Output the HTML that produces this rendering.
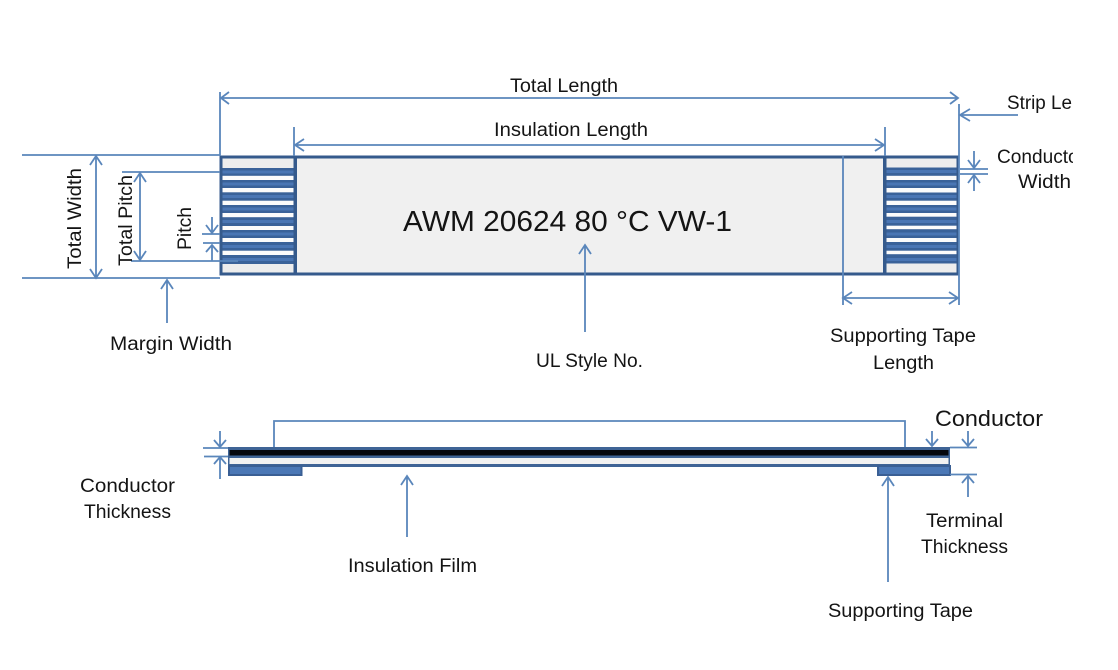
<!DOCTYPE html>
<html>
<head>
<meta charset="utf-8">
<style>
html,body{margin:0;padding:0;background:#fff;width:1118px;height:670px;overflow:hidden}
svg{display:block}
text{font-family:"Liberation Sans",sans-serif;fill:#141414;font-size:19px}
.l{stroke:#5a86bb;stroke-width:1.8;fill:none}
</style>
</head>
<body>
<svg width="1118" height="670" viewBox="0 0 1118 670" xmlns="http://www.w3.org/2000/svg">
<!-- top strip -->
<rect x="221" y="157" width="737" height="117" fill="#f0f0f0"/>
<rect x="222" y="158" width="72" height="10" fill="#ededed"/>
<rect x="222" y="264" width="72" height="9" fill="#ededed"/>
<rect x="886" y="158" width="72" height="9" fill="#ededed"/>
<rect x="886" y="264" width="72" height="9" fill="#ededed"/>
<!-- conductor blocks -->
<rect x="221" y="168" width="74" height="96" fill="#3a6299"/>
<rect x="885" y="167.500" width="74" height="96" fill="#3a6299"/>
<g fill="#4a76b4">
<rect x="221" y="170.500" width="74" height="3"/>
<rect x="221" y="182.500" width="74" height="3"/>
<rect x="221" y="195" width="74" height="3"/>
<rect x="221" y="207.500" width="74" height="3"/>
<rect x="221" y="220" width="74" height="3"/>
<rect x="221" y="232.500" width="74" height="3"/>
<rect x="221" y="245" width="74" height="3"/>
<rect x="221" y="258" width="74" height="3"/>
<rect x="885" y="170" width="74" height="3"/>
<rect x="885" y="182.500" width="74" height="3"/>
<rect x="885" y="195" width="74" height="3"/>
<rect x="885" y="207.500" width="74" height="3"/>
<rect x="885" y="220" width="74" height="3"/>
<rect x="885" y="232.500" width="74" height="3"/>
<rect x="885" y="245" width="74" height="3"/>
<rect x="885" y="258" width="74" height="3"/>
</g>
<g fill="#fbfbfb">
<rect x="222" y="175.800" width="72" height="4.200"/>
<rect x="222" y="188" width="72" height="4.300"/>
<rect x="222" y="200.700" width="72" height="4.300"/>
<rect x="222" y="213" width="72" height="4.200"/>
<rect x="222" y="226" width="72" height="4"/>
<rect x="222" y="238" width="72" height="4"/>
<rect x="222" y="250.700" width="72" height="4.300"/>
<rect x="886" y="175.800" width="72" height="4.200"/>
<rect x="886" y="188" width="72" height="4.500"/>
<rect x="886" y="200.700" width="72" height="4.300"/>
<rect x="886" y="213" width="72" height="3.700"/>
<rect x="886" y="225.700" width="72" height="3.500"/>
<rect x="886" y="238" width="72" height="4"/>
<rect x="886" y="250.700" width="72" height="3.500"/>
</g>
<rect x="221" y="157" width="737" height="117" fill="none" stroke="#355a8c" stroke-width="3"/>
<rect x="293.500" y="156" width="3.500" height="119" fill="#355a8c"/>
<rect x="883" y="156" width="3.500" height="119" fill="#355a8c"/>

<!-- top dimension lines -->
<path class="l" d="M220 92V156M959 104V305M294 127V156M885 127V156M843 156V305"/>
<path class="l" d="M221 98H958M229 92L221 98L229 104M950 92L958 98L950 104"/>
<path class="l" d="M295 145H884M304 139L295 145L304 151M875 139L884 145L875 151"/>
<path class="l" d="M960 115H1018M970 109L960 115L970 121"/>
<path class="l" d="M843 298H958M852 292L843 298L852 304M949 292L958 298L949 304"/>
<path class="l" d="M22 155H220M22 278H220M122 172H220M131 261H238"/>
<path class="l" d="M96 156V278M90 165L96 156L102 165M90 269L96 278L102 269"/>
<path class="l" d="M140 173V260M134 182L140 173L146 182M134 251L140 260L146 251"/>
<path class="l" d="M202 234H220M203 243H220M212 217V233M206 225L212 233L218 225M212 261V245M206 252L212 245L218 252"/>
<path class="l" d="M960 169H988M960 174H988M974 151V168M968 160L974 168L980 160M974 191V175M968 183L974 175L980 183"/>
<path class="l" d="M167 280V323M161 289L167 280L173 289"/>
<path class="l" d="M585 245V332M579 254L585 245L591 254"/>

<!-- bottom strip -->
<rect x="228" y="447" width="722" height="20" fill="#3f6496"/>
<rect x="229.500" y="450" width="719" height="5.500" fill="#05070d"/>
<rect x="229.500" y="458" width="719" height="6" fill="#f2f2f2"/>
<rect x="229" y="466" width="72.500" height="9" fill="#4b78b6" stroke="#3a5f94" stroke-width="2"/>
<rect x="878" y="466" width="72" height="9" fill="#4b78b6" stroke="#3a5f94" stroke-width="2"/>

<!-- bottom dimension lines -->
<path class="l" d="M274 447V421H905V447"/>
<path class="l" d="M203 448H228M204 456.500H228"/>
<path class="l" d="M220 431V447M214 440L220 447L226 440M220 479V457M214 464L220 457L226 464"/>
<path class="l" d="M932 431V446M926 439L932 446L938 439"/>
<path class="l" d="M950 447.500H977M950 474.500H977M968 431V446M962 439L968 446L974 439M968 497V476M962 483L968 476L974 483"/>
<path class="l" d="M407 476V537M401 485L407 476L413 485"/>
<path class="l" d="M888 477V582M882 486L888 477L894 486"/>

<!-- labels -->
<text x="510" y="92" textLength="108" lengthAdjust="spacingAndGlyphs">Total Length</text>
<text x="494" y="136" textLength="154" lengthAdjust="spacingAndGlyphs">Insulation Length</text>
<text x="403" y="231" style="font-size:29px" textLength="329" lengthAdjust="spacingAndGlyphs">AWM 20624 80 °C VW-1</text>
<text x="1007" y="109" style="font-size:19.500px" textLength="65" lengthAdjust="spacingAndGlyphs">Strip Le</text>
<svg x="990" y="140" width="83" height="60" viewBox="990 140 83 60">
<text x="997" y="163" textLength="88" lengthAdjust="spacingAndGlyphs">Conductor</text>
</svg>
<text x="1018" y="188" textLength="53" lengthAdjust="spacingAndGlyphs">Width</text>
<text x="110" y="350" textLength="122" lengthAdjust="spacingAndGlyphs">Margin Width</text>
<text x="536" y="367" textLength="107" lengthAdjust="spacingAndGlyphs">UL Style No.</text>
<text x="830" y="342" textLength="146" lengthAdjust="spacingAndGlyphs">Supporting Tape</text>
<text x="873" y="369" textLength="61" lengthAdjust="spacingAndGlyphs">Length</text>
<text x="935" y="426" style="font-size:22px" textLength="108" lengthAdjust="spacingAndGlyphs">Conductor</text>
<text x="80" y="492" textLength="95" lengthAdjust="spacingAndGlyphs">Conductor</text>
<text x="84" y="518" textLength="87" lengthAdjust="spacingAndGlyphs">Thickness</text>
<text x="348" y="572" textLength="129" lengthAdjust="spacingAndGlyphs">Insulation Film</text>
<text x="926" y="527" textLength="77" lengthAdjust="spacingAndGlyphs">Terminal</text>
<text x="921" y="553" textLength="87" lengthAdjust="spacingAndGlyphs">Thickness</text>
<text x="828" y="617" textLength="145" lengthAdjust="spacingAndGlyphs">Supporting Tape</text>
<text transform="translate(81,269) rotate(-90)" textLength="101" lengthAdjust="spacingAndGlyphs">Total Width</text>
<text transform="translate(132,266) rotate(-90)" textLength="91" lengthAdjust="spacingAndGlyphs">Total Pitch</text>
<text transform="translate(191,250) rotate(-90)" textLength="43" lengthAdjust="spacingAndGlyphs">Pitch</text>
</svg>
</body>
</html>
